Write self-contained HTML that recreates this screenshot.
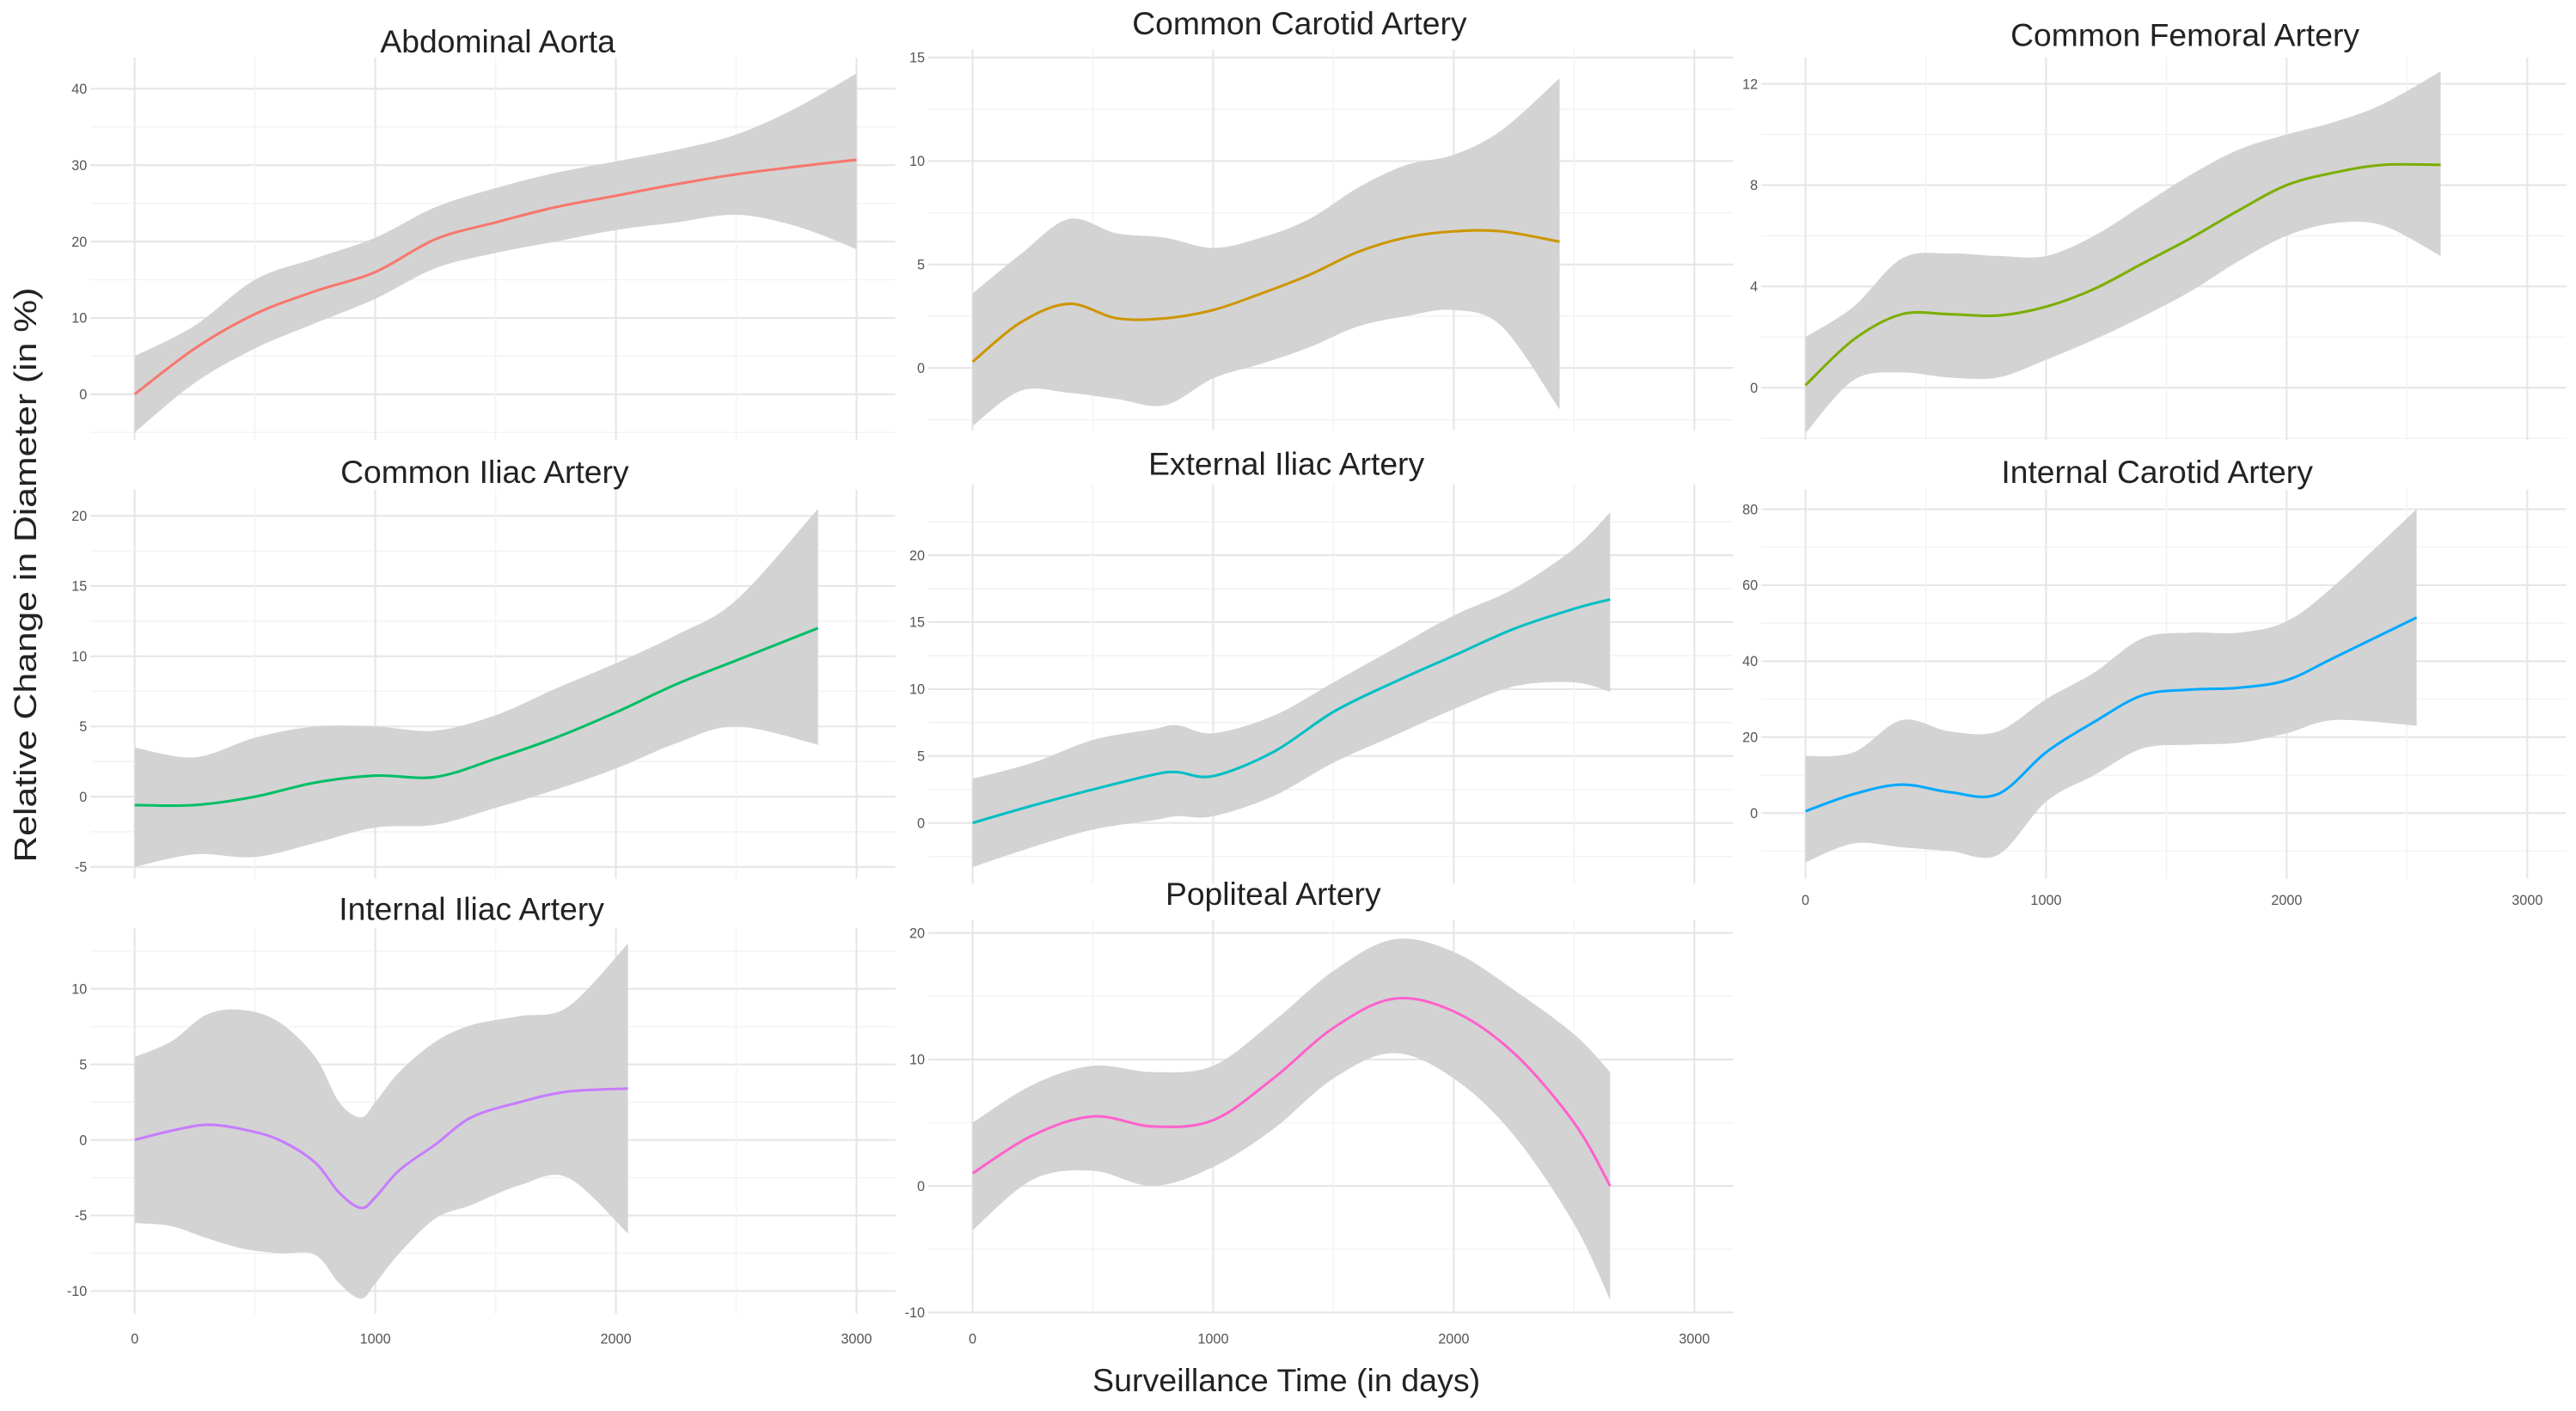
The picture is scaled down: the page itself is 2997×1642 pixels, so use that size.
<!DOCTYPE html>
<html><head><meta charset="utf-8">
<style>
html,body{margin:0;padding:0;background:#fff;}
svg{display:block;}
text{font-family:"Liberation Sans",sans-serif;}
</style></head>
<body>
<svg id="chart" width="2997" height="1642" viewBox="0 0 1568 859" xmlns="http://www.w3.org/2000/svg">
<rect x="0" y="0" width="1568" height="859" fill="#fff"/>
<text x="0" y="0" transform="translate(22,350) rotate(-90)" text-anchor="middle" font-size="19" textLength="350" lengthAdjust="spacingAndGlyphs" fill="#222">Relative Change in Diameter (in %)</text>
<text x="783" y="847" text-anchor="middle" font-size="19.5" textLength="236" lengthAdjust="spacingAndGlyphs" fill="#222">Surveillance Time (in days)</text>
</svg>
<script>
// ---- data (x in days, values in %) ----
const titles = ["Abdominal Aorta","Common Carotid Artery","Common Femoral Artery","Common Iliac Artery","External Iliac Artery","Internal Carotid Artery","Internal Iliac Artery","Popliteal Artery"];
const colors = ["#F8766D","#CD9600","#7CAE00","#00BE67","#00BFC4","#00A9FF","#C77CFF","#FF61CC"];
const xTicks = [0,1000,2000,3000];

const aortaX = [0,250,500,750,1000,1250,1500,1750,2000,2250,2500,2750,3000];
const aortaMean = [0,6,10.5,13.5,16,20.3,22.5,24.5,26,27.5,28.8,29.8,30.7];
const aortaLo = [-5,1.5,6,9.3,12.5,16.5,18.5,20,21.5,22.5,23.5,22,19];
const aortaHi = [5,9,15,17.8,20.5,24.5,27,29,30.5,32,34,37.5,42];
const aortaYTicks = [0,10,20,30,40];

const ccaX = [0,200,400,600,800,1000,1200,1400,1600,1800,2000,2200,2440];
const ccaMean = [0.3,2.2,3.1,2.4,2.4,2.8,3.6,4.5,5.6,6.3,6.6,6.6,6.1];
const ccaLo = [-2.8,-1.1,-1.2,-1.5,-1.8,-0.5,0.2,1,2,2.5,2.8,2,-2];
const ccaHi = [3.6,5.5,7.2,6.5,6.3,5.8,6.3,7.2,8.7,9.8,10.3,11.5,14];
const ccaYTicks = [0,5,10,15];

const cfaX = [0,200,400,600,800,1000,1200,1400,1600,1800,2000,2200,2400,2640];
const cfaMean = [0.1,1.9,2.9,2.9,2.85,3.2,3.9,4.9,5.9,7,8,8.5,8.8,8.8];
const cfaLo = [-1.8,0.3,0.6,0.4,0.4,1.1,1.9,2.8,3.8,5,6,6.5,6.4,5.2];
const cfaHi = [2,3.2,5.1,5.3,5.2,5.2,6,7.2,8.4,9.4,10,10.5,11.2,12.5];
const cfaYTicks = [0,4,8,12];

const ciaX = [0,250,500,750,1000,1250,1500,1750,2000,2250,2500,2840];
const ciaMean = [-0.6,-0.6,0,1,1.5,1.4,2.7,4.2,6,8,9.7,12];
const ciaLo = [-5,-4.1,-4.3,-3.3,-2.2,-2,-0.8,0.5,2,3.8,5,3.7];
const ciaHi = [3.5,2.8,4.2,5,5,4.7,5.8,7.7,9.5,11.5,14,20.5];
const ciaYTicks = [-5,0,5,10,15,20];

const eiaX = [0,250,500,750,850,1000,1250,1500,1750,2000,2250,2500,2650];
const eiaMean = [0,1.3,2.5,3.6,3.8,3.5,5.3,8.3,10.5,12.5,14.5,16,16.7];
const eiaLo = [-3.3,-1.8,-0.5,0.2,0.5,0.5,2,4.5,6.5,8.5,10.2,10.5,9.8];
const eiaHi = [3.3,4.5,6.2,7,7.3,6.7,8,10.5,13,15.5,17.5,20.5,23.2];
const eiaYTicks = [0,5,10,15,20];

const icaX = [0,200,400,600,800,1000,1200,1400,1600,1800,2000,2200,2540];
const icaMean = [0.5,5,7.5,5.5,5,16,24,31,32.5,33,35,41,51.5];
const icaLo = [-13,-8,-9,-10,-11,3,10,17,18,18.5,21,24.5,23];
const icaHi = [15,16,24.5,21.5,21.5,30,37,46,47.5,47.5,50.5,60,80];
const icaYTicks = [0,20,40,60,80];

const iiaX = [0,150,300,450,600,750,850,940,1000,1100,1250,1400,1600,1800,2050];
const iiaMean = [0,0.6,1,0.7,0,-1.5,-3.5,-4.5,-3.8,-2,-0.3,1.5,2.5,3.2,3.4];
const iiaLo = [-5.5,-5.7,-6.5,-7.2,-7.5,-7.6,-9.5,-10.5,-9.5,-7.5,-5.2,-4.3,-3,-2.5,-6.2];
const iiaHi = [5.5,6.5,8.3,8.6,7.8,5.5,2.5,1.5,2.5,4.5,6.5,7.6,8.2,8.8,13];
const iiaYTicks = [-10,-5,0,5,10];

const popX = [0,250,500,750,1000,1250,1500,1750,2000,2250,2500,2650];
const popMean = [1,4,5.5,4.7,5.2,8.5,12.5,14.8,13.8,10.5,5,0];
const popLo = [-3.5,0.5,1.2,0,1.5,4.5,8.5,10.5,8.5,4,-3,-9];
const popHi = [5,8,9.5,9,9.5,13,17,19.5,18.5,15.5,12,9];
const popYTicks = [-10,0,10,20];

const series = [
 [aortaX,aortaMean,aortaLo,aortaHi,aortaYTicks],
 [ccaX,ccaMean,ccaLo,ccaHi,ccaYTicks],
 [cfaX,cfaMean,cfaLo,cfaHi,cfaYTicks],
 [ciaX,ciaMean,ciaLo,ciaHi,ciaYTicks],
 [eiaX,eiaMean,eiaLo,eiaHi,eiaYTicks],
 [icaX,icaMean,icaLo,icaHi,icaYTicks],
 [iiaX,iiaMean,iiaLo,iiaHi,iiaYTicks],
 [popX,popMean,popLo,popHi,popYTicks]
];

// ---- layout (not data) ----
const layout = [
 {l:55,r:545,t:35,b:268,x0:82,ya:[0,240],yb:[40,54],ty:25,tx:303,xt:false},
 {l:565,r:1055,t:30,b:262,x0:592,ya:[0,224],yb:[15,35],ty:14,tx:791,xt:false},
 {l:1072,r:1562,t:35,b:268,x0:1099,ya:[0,236],yb:[12,51],ty:21,tx:1330,xt:false},
 {l:55,r:545,t:298,b:535,x0:82,ya:[0,485],yb:[20,314],ty:287,tx:295,xt:false},
 {l:565,r:1055,t:295,b:538,x0:592,ya:[0,501],yb:[20,338],ty:282,tx:783,xt:false},
 {l:1072,r:1562,t:298,b:535,x0:1099,ya:[0,495],yb:[80,310],ty:287,tx:1313,xt:true,xty:548},
 {l:55,r:545,t:565,b:800,x0:82,ya:[0,694],yb:[10,602],ty:553,tx:287,xt:true,xty:815},
 {l:565,r:1055,t:560,b:800,x0:592,ya:[0,722],yb:[20,568],ty:544,tx:775,xt:true,xty:815}
];
const PXD = 0.14645;
const NS = "http://www.w3.org/2000/svg";
const svg = document.getElementById('chart');

function mk(tag, attrs, parent){
  const e = document.createElementNS(NS, tag);
  for (const k in attrs) e.setAttribute(k, attrs[k]);
  (parent||svg).appendChild(e);
  return e;
}
function smooth(pts){
  let d = "M"+pts[0][0].toFixed(2)+","+pts[0][1].toFixed(2);
  for (let i=0;i<pts.length-1;i++){
    const p0=pts[Math.max(0,i-1)], p1=pts[i], p2=pts[i+1], p3=pts[Math.min(pts.length-1,i+2)];
    const c1=[p1[0]+(p2[0]-p0[0])/6, p1[1]+(p2[1]-p0[1])/6];
    const c2=[p2[0]-(p3[0]-p1[0])/6, p2[1]-(p3[1]-p1[1])/6];
    d += " C"+c1[0].toFixed(2)+","+c1[1].toFixed(2)+" "+c2[0].toFixed(2)+","+c2[1].toFixed(2)+" "+p2[0].toFixed(2)+","+p2[1].toFixed(2);
  }
  return d;
}

series.forEach((s, i) => {
  const L = layout[i];
  const [xs, mean, lo, hi, yt] = s;
  const xScale = v => L.x0 + v*PXD;
  const k = (L.yb[1]-L.ya[1])/(L.yb[0]-L.ya[0]);
  const yScale = v => L.ya[1] + (v-L.ya[0])*k;
  const g = mk('g', {});
  
  
  const step = yt[1]-yt[0];
  for (let v = yt[0]-step/2; v <= yt[yt.length-1]+step/2+1e-9; v += step/2){
    const y = yScale(v);
    if (y < L.t-2 || y > L.b+2) continue;
    const major = yt.some(t=>Math.abs(t-v)<1e-9);
    const ln = mk('line',{x1:L.l,x2:L.r,y1:y,y2:y,stroke:major?'#e6e6e6':'#f3f3f3','stroke-width':major?1.1:0.8},g);
    
    
  }
  for (let v=0; v<=3500; v+=500){
    const x = xScale(v);
    if (x > L.r) continue;
    const major = v%1000===0;
    const ln = mk('line',{x1:x,x2:x,y1:L.t,y2:L.b,stroke:major?'#e6e6e6':'#f3f3f3','stroke-width':major?1.1:0.8},g);
    
    
  }
  const up = xs.map((x,j)=>[xScale(x),yScale(hi[j])]);
  const dn = xs.map((x,j)=>[xScale(x),yScale(lo[j])]).reverse();
  const dUp = smooth(up);
  const dDn = smooth(dn).replace(/^M/,'L');
  const rib = mk('path',{d:dUp+" "+dDn+" Z",fill:'#d3d3d3'},g);
  
  
  const line = mk('path',{d:smooth(xs.map((x,j)=>[xScale(x),yScale(mean[j])])),fill:'none',stroke:colors[i],'stroke-width':1.6},g);
  
  
  yt.forEach(v=>{
    const t = mk('text',{x:L.l-2,y:yScale(v)+3,'text-anchor':'end','font-size':8.5,fill:'#555'},g);
    t.textContent = String(v);
    
    
  });
  if (L.xt){
    xTicks.forEach(v=>{
      const t = mk('text',{x:xScale(v),y:L.xty+3,'text-anchor':'middle','font-size':8.5,fill:'#555'},g);
      t.textContent = String(v);
      
      
    });
  }
  const tt = mk('text',{x:L.tx,y:L.ty+7,'text-anchor':'middle','font-size':19.5,fill:'#222'},g);
  tt.textContent = titles[i];
  
  
});
</script>
</body></html>
